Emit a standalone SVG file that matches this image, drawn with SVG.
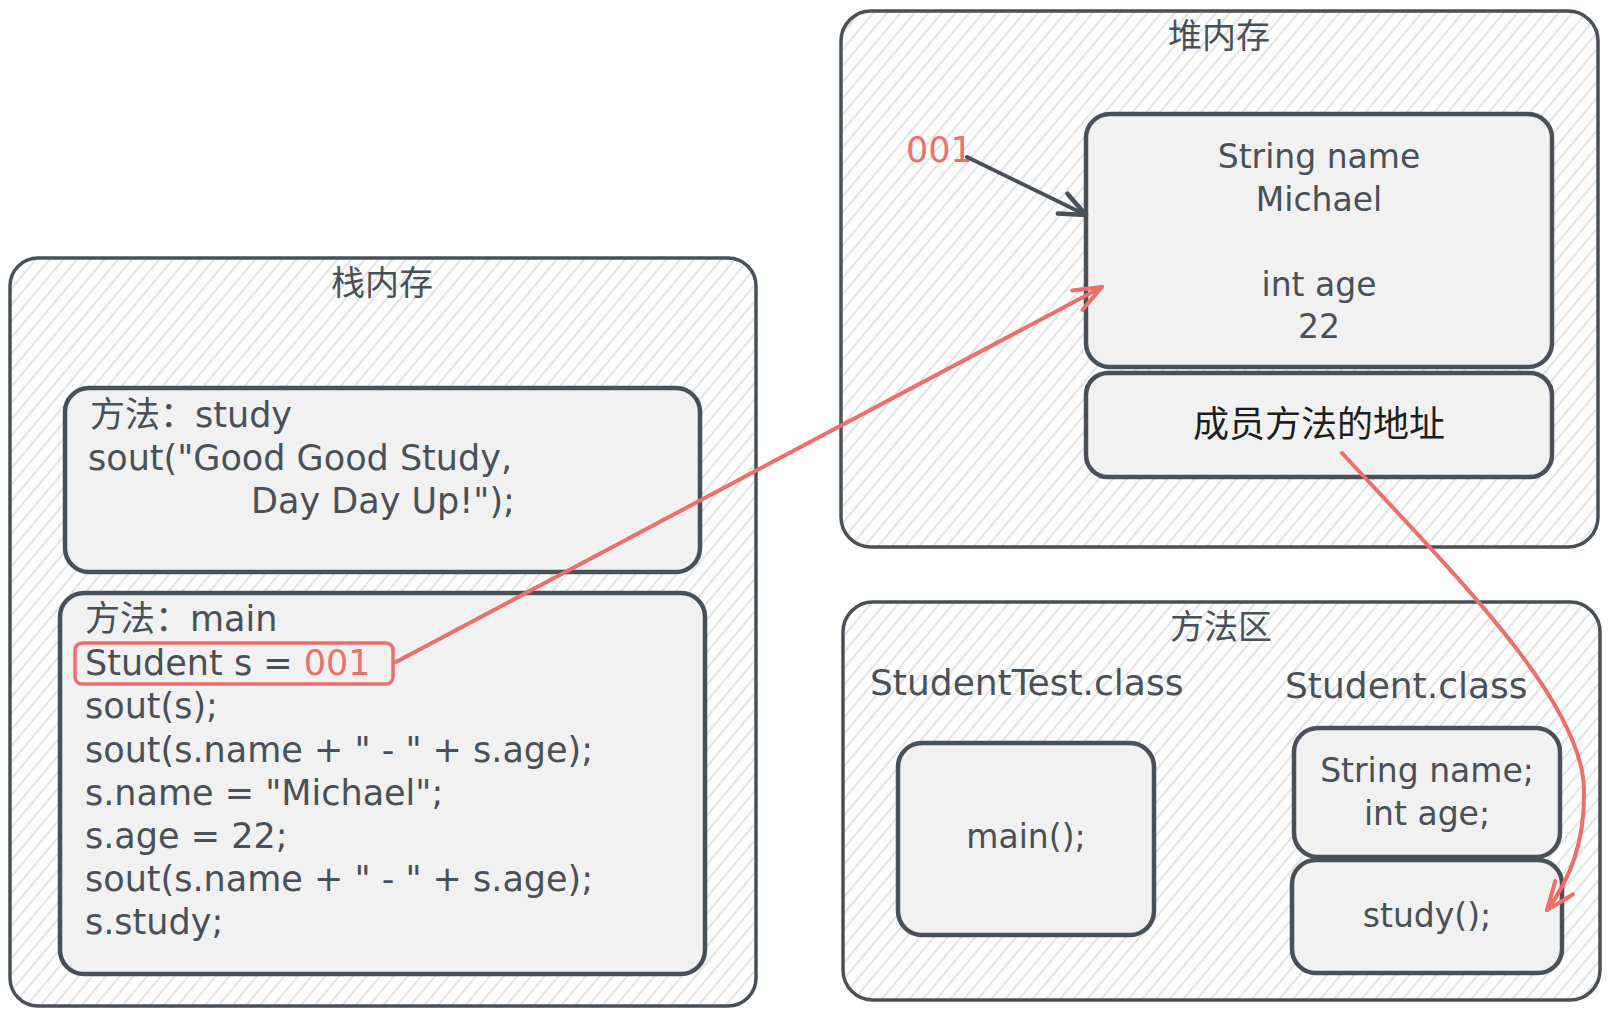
<svg xmlns="http://www.w3.org/2000/svg" width="1609" height="1014" viewBox="0 0 1609 1014">
<style>
.outer{fill:url(#hatch);stroke:#495057;stroke-width:3.5;}
.inner{fill:#f1f1f1;stroke:#495057;stroke-width:4.5;}
.t{font-family:"DejaVu Sans","Noto Sans CJK SC",sans-serif;font-size:35px;fill:#495057;}
.m{text-anchor:middle;}
.cjk{font-family:"Noto Sans CJK SC",sans-serif;}
.title{font-family:"Noto Sans CJK SC",sans-serif;font-size:34px;fill:#495057;text-anchor:middle;}
.red{fill:#ec6f6c;}
.s33{font-size:33px;}
.s36{font-size:36px;}
.conn{fill:none;stroke-width:4;stroke-linecap:round;}
</style>
<defs>
<pattern id="hatch" patternUnits="userSpaceOnUse" width="10.5" height="20" patternTransform="rotate(40)">
<line x1="5.25" y1="-1" x2="5.25" y2="21" stroke="#dcdcdc" stroke-width="1.7"/>
</pattern>
<marker id="ah-red" markerUnits="userSpaceOnUse" viewBox="-40 -20 45 40" markerWidth="45" markerHeight="40" refX="0" refY="0" orient="auto" overflow="visible">
<path d="M-28,-11 L0,0 L-28,11" fill="none" stroke="#ec6f6c" stroke-width="4" stroke-linecap="round" stroke-linejoin="round"/>
</marker>
<marker id="ah-dark" markerUnits="userSpaceOnUse" viewBox="-40 -20 45 40" markerWidth="45" markerHeight="40" refX="0" refY="0" orient="auto" overflow="visible">
<path d="M-26,-11 L0,0 L-26,11" fill="none" stroke="#495057" stroke-width="4.5" stroke-linecap="round" stroke-linejoin="round"/>
</marker>
</defs>
<rect width="1609" height="1014" fill="#ffffff"/>

<g id="stack">
<rect class="outer" x="10" y="258" width="746" height="748" rx="28"/>
<text class="title" x="382" y="295">栈内存</text>
</g>
<g id="study-frame">
<rect class="inner" x="65" y="388" width="635" height="184" rx="24"/>
<text class="t" x="90" y="427"><tspan class="cjk">方法：</tspan>study</text>
<text class="t" x="88" y="470">sout(&quot;Good Good Study,</text>
<text class="t" x="251" y="513">Day Day Up!&quot;);</text>
</g>
<g id="main-frame">
<rect class="inner" x="60" y="593" width="645" height="381" rx="24"/>
<text class="t" x="85" y="631"><tspan class="cjk">方法：</tspan>main</text>
<text class="t" x="85" y="675">Student s = <tspan class="red">001</tspan></text>
<text class="t" x="85" y="718">sout(s);</text>
<text class="t" x="85" y="762">sout(s.name + &quot; - &quot; + s.age);</text>
<text class="t" x="85" y="805">s.name = &quot;Michael&quot;;</text>
<text class="t" x="85" y="848">s.age = 22;</text>
<text class="t" x="85" y="891">sout(s.name + &quot; - &quot; + s.age);</text>
<text class="t" x="85" y="934">s.study;</text>
<rect x="75" y="643" width="318" height="41" rx="7" fill="none" stroke="#ec6f6c" stroke-width="3.5"/>
</g>

<g id="heap">
<rect class="outer" x="841" y="11" width="757" height="536" rx="30"/>
<text class="title" x="1219" y="48">堆内存</text>
<text class="t red" x="906" y="162" font-size="35">001</text>
</g>
<g id="student-object">
<rect class="inner" x="1086" y="114" width="466" height="253" rx="24"/>
<text class="t s33 m" x="1319" y="168">String name</text>
<text class="t s33 m" x="1319" y="211">Michael</text>
<text class="t s33 m" x="1319" y="296">int age</text>
<text class="t s33 m" x="1319" y="338">22</text>
</g>
<g id="member-methods">
<rect class="inner" x="1086" y="373" width="466" height="104" rx="22"/>
<text x="1319" y="437" text-anchor="middle" font-family="Noto Sans CJK SC, sans-serif" font-size="36" fill="#1e1e1e">成员方法的地址</text>
</g>

<g id="method-area">
<rect class="outer" x="843" y="602" width="757" height="398" rx="30"/>
<text class="title" x="1221" y="639">方法区</text>
<text class="t s36" x="870" y="695">StudentTest.class</text>
<text class="t s36" x="1285" y="698">Student.class</text>
</g>
<g id="main-method">
<rect class="inner" x="898" y="743" width="256" height="192" rx="24"/>
<text class="t s33 m" x="1026" y="848">main();</text>
</g>
<g id="student-fields">
<rect class="inner" x="1294" y="728" width="266" height="129" rx="24"/>
<text class="t s33 m" x="1427" y="782">String name;</text>
<text class="t s33 m" x="1427" y="825">int age;</text>
</g>
<g id="study-method">
<rect class="inner" x="1292" y="860" width="270" height="113" rx="24"/>
<text class="t s33 m" x="1427" y="927">study();</text>
</g>

<g id="connectors">
<line class="conn" x1="396" y1="662" x2="1102" y2="287" stroke="#ec6f6c" marker-end="url(#ah-red)"/>
<line class="conn" x1="967" y1="157" x2="1086" y2="215" stroke="#495057" stroke-width="4.5" marker-end="url(#ah-dark)"/>
<path class="conn" d="M1342,453 C1450,570 1583,700 1584,790 C1585,840 1570,880 1547,910" stroke="#ec6f6c" stroke-width="3.5" marker-end="url(#ah-red)"/>
</g>
</svg>
